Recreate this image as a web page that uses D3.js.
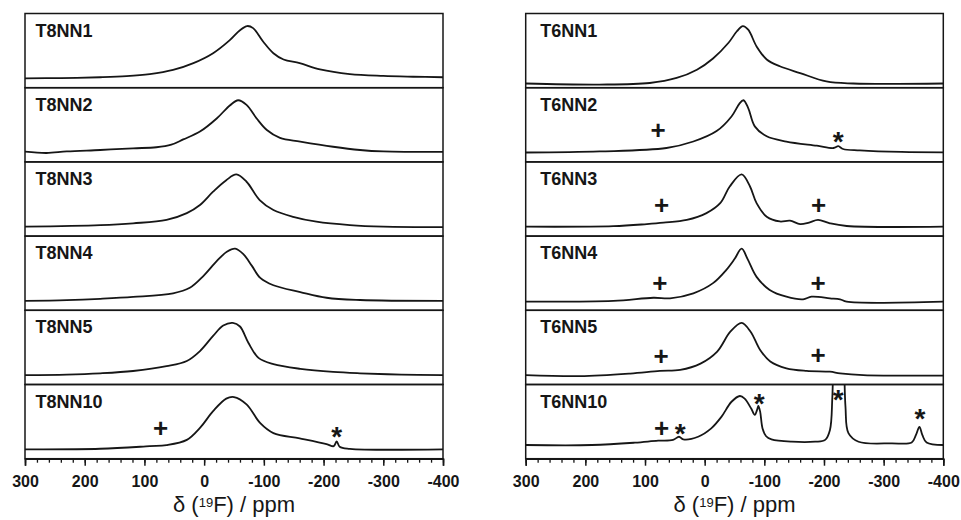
<!DOCTYPE html>
<html>
<head>
<meta charset="utf-8">
<script src="https://cdn.jsdelivr.net/npm/d3@7"></script>
<style>
  body { margin: 0; background: #fff; }
  svg { display: block; }
</style>
</head>
<body>
<svg id="chart" width="961" height="520"></svg>
<script>
// Chemical shift axis (ppm), drawn high to low
const ppmTicks = [300, 200, 100, 0, -100, -200, -300, -400];

// Sample names, top to bottom, for each column of stacked spectra
const leftSamples = ["T8NN1", "T8NN2", "T8NN3", "T8NN4", "T8NN5", "T8NN10"];
const rightSamples = ["T6NN1", "T6NN2", "T6NN3", "T6NN4", "T6NN5", "T6NN10"];

// 19F spectra: [shift in ppm, relative intensity (main peak = 1)]
const T8NN1 = [[300,0],[240,0.005],[174,0.02],[130,0.04],[91,0.08],[52,0.16],[18,0.29],[-15,0.48],[-43,0.73],[-60,0.92],[-72,1.0],[-82,0.96],[-99,0.70],[-116,0.48],[-133,0.36],[-160,0.29],[-194,0.17],[-244,0.08],[-300,0.045],[-350,0.03],[-400,0.02]];
const T8NN2 = [[300,0.015],[264,-0.01],[230,0.02],[174,0.048],[119,0.08],[80,0.10],[55,0.15],[35,0.25],[7,0.40],[-21,0.65],[-43,0.90],[-57,1.0],[-71,0.91],[-88,0.65],[-105,0.43],[-127,0.28],[-161,0.21],[-216,0.11],[-261,0.048],[-300,0.02],[-400,0.01]];
const T8NN3 = [[300,0],[174,0.03],[119,0.065],[63,0.13],[29,0.26],[7,0.415],[-15,0.67],[-37,0.89],[-54,1.0],[-71,0.86],[-93,0.51],[-116,0.32],[-149,0.19],[-188,0.096],[-244,0.03],[-300,0],[-400,-0.01]];
const T8NN4 = [[300,0],[230,0.015],[174,0.04],[119,0.075],[52,0.145],[24,0.25],[1,0.48],[-21,0.76],[-38,0.94],[-52,1.0],[-66,0.89],[-80,0.67],[-94,0.44],[-116,0.30],[-161,0.17],[-205,0.06],[-261,0.017],[-400,0]];
const T8NN5 = [[300,0],[230,0.01],[174,0.034],[119,0.078],[63,0.17],[29,0.27],[7,0.46],[-15,0.75],[-32,0.95],[-48,1.0],[-60,0.93],[-74,0.62],[-91,0.33],[-116,0.21],[-161,0.12],[-216,0.06],[-261,0.034],[-330,0.01],[-400,0]];
const T8NN10 = [[300,0],[174,0.01],[91,0.06],[63,0.08],[29,0.18],[7,0.41],[-15,0.73],[-37,0.97],[-50,1.0],[-71,0.86],[-94,0.50],[-116,0.31],[-160,0.21],[-205,0.10],[-217,0.06],[-222,0.15],[-227,0.05],[-244,0.01],[-400,0]];

const T6NN1 = [[300,-0.1],[176,-0.12],[92,-0.09],[47,0.006],[13,0.165],[-14,0.38],[-40,0.68],[-54,0.90],[-64,1.0],[-73,0.93],[-87,0.61],[-104,0.36],[-126,0.23],[-160,0.10],[-204,-0.06],[-249,-0.10],[-400,-0.1]];
const T6NN2 = [[300,0],[176,0.02],[64,0.086],[19,0.21],[-20,0.41],[-45,0.69],[-58,0.93],[-65,1.0],[-73,0.85],[-84,0.50],[-104,0.31],[-137,0.21],[-188,0.13],[-216,0.086],[-224,0.12],[-232,0.067],[-260,0.04],[-330,0.01],[-400,0.003]];
const T6NN3 = [[300,0],[153,0.01],[97,0.05],[69,0.077],[30,0.13],[-3,0.26],[-26,0.45],[-42,0.77],[-62,1.0],[-76,0.77],[-87,0.45],[-104,0.19],[-126,0.10],[-143,0.115],[-160,0.05],[-175,0.08],[-190,0.13],[-210,0.064],[-238,0.013],[-400,0]];
const T6NN4 = [[300,-0.015],[153,0],[86,0.06],[58,0.05],[19,0.145],[-14,0.34],[-36,0.59],[-50,0.80],[-62,1.0],[-72,0.80],[-87,0.46],[-109,0.21],[-137,0.08],[-165,0.03],[-179,0.08],[-210,0.05],[-227,0.03],[-238,-0.015],[-400,-0.015]];
const T6NN5 = [[300,0],[209,-0.02],[125,0.03],[75,0.08],[41,0.10],[7,0.22],[-21,0.45],[-43,0.83],[-62,1.0],[-77,0.83],[-93,0.48],[-110,0.26],[-137,0.13],[-171,0.08],[-210,0.065],[-227,0.034],[-266,0],[-400,-0.01]];
const T6NN10 = [[300,0.082],[189,0.082],[117,0.127],[78,0.165],[53,0.18],[43,0.24],[36,0.19],[11,0.24],[-11,0.40],[-28,0.62],[-45,0.91],[-59,1.02],[-67,0.97],[-78,0.78],[-84,0.66],[-88,0.76],[-90,0.83],[-93,0.72],[-97,0.40],[-103,0.25],[-112,0.19],[-146,0.145],[-185,0.145],[-202,0.18],[-210,0.37],[-214,1.0],[-217,2.2],[-224,3.0],[-232,2.2],[-236,0.82],[-241,0.31],[-258,0.145],[-314,0.115],[-347,0.13],[-354,0.27],[-360,0.43],[-365,0.27],[-372,0.13],[-400,0.082]];

// Annotation symbols: [sample, symbol, shift (ppm), height of symbol centre]
const markers = [
  ["T8NN10", "+", 73, 0.40], ["T8NN10", "*", -222, 0.37],
  ["T6NN2", "+", 78, 0.43], ["T6NN2", "*", -224, 0.335],
  ["T6NN3", "+", 72, 0.415], ["T6NN3", "+", -191, 0.415],
  ["T6NN4", "+", 75, 0.35], ["T6NN4", "+", -190, 0.35],
  ["T6NN5", "+", 73, 0.365], ["T6NN5", "+", -190, 0.385],
  ["T6NN10", "+", 72, 0.40], ["T6NN10", "*", 41, 0.43], ["T6NN10", "*", -91.5, 1.0],
  ["T6NN10", "*", -224, 1.08], ["T6NN10", "*", -361, 0.72]
];

const spectra = { T8NN1, T8NN2, T8NN3, T8NN4, T8NN5, T8NN10, T6NN1, T6NN2, T6NN3, T6NN4, T6NN5, T6NN10 };

// Layout
const FONT = "'Liberation Sans', Arial, Helvetica, sans-serif";
const INK = "#161616";
const columns = [
  { samples: leftSamples, range: [25, 443], labelDx: 10.5 },
  { samples: rightSamples, range: [525.7, 943.3], labelDx: 14.5 }
];
const top0 = 13.5, panelH = 74.2;

const svg = d3.select("#chart");
const defs = svg.append("defs");
const y = d3.scaleLinear().domain([-0.18, 1.24]).range([panelH, 0]);

columns.forEach((col, c) => {
  const x = d3.scaleLinear().domain([ppmTicks[0], ppmTicks[ppmTicks.length - 1]]).range(col.range);
  const line = d3.line().x(d => x(d[0])).y(d => y(d[1])).curve(d3.curveCatmullRom.alpha(0.5));
  const colG = svg.append("g");

  col.samples.forEach((name, i) => {
    const p = colG.append("g").attr("transform", `translate(0,${top0 + i * panelH})`);
    const clipId = `clip-${c}-${i}`;
    defs.append("clipPath").attr("id", clipId)
      .append("rect")
      .attr("x", col.range[0]).attr("y", 0)
      .attr("width", col.range[1] - col.range[0]).attr("height", panelH);

    p.append("path")
      .datum(spectra[name])
      .attr("clip-path", `url(#${clipId})`)
      .attr("fill", "none")
      .attr("stroke", INK)
      .attr("stroke-width", 1.8)
      .attr("stroke-linejoin", "round")
      .attr("d", line);

    // sample label
    p.append("text")
      .attr("x", col.range[0] + col.labelDx)
      .attr("y", 23.2)
      .attr("font-family", FONT)
      .attr("font-weight", "bold")
      .attr("font-size", 18)
      .attr("fill", INK)
      .text(name);

    // + and * annotations
    markers.filter(m => m[0] === name).forEach(m => {
      const isPlus = m[1] === "+";
      const fs = isPlus ? 26 : 28;
      const shift = isPlus ? 0.35 * fs : 0.58 * fs;
      p.append("text")
        .attr("x", x(m[2]))
        .attr("y", y(m[3]) + shift)
        .attr("text-anchor", "middle")
        .attr("font-family", FONT)
        .attr("font-weight", "bold")
        .attr("font-size", fs)
        .attr("fill", INK)
        .text(m[1]);
    });

    // panel frame
    p.append("rect")
      .attr("x", col.range[0]).attr("y", 0)
      .attr("width", col.range[1] - col.range[0]).attr("height", panelH)
      .attr("fill", "none")
      .attr("stroke", INK)
      .attr("stroke-width", 1.5);
  });

  // shift axis under the bottom panel
  const axisY = top0 + col.samples.length * panelH;
  colG.append("g")
    .attr("transform", `translate(0,${axisY})`)
    .call(d3.axisBottom(x).tickValues(x.ticks(35)).tickSize(4).tickFormat(""))
    .call(g => g.select(".domain").remove())
    .call(g => g.selectAll(".tick line").attr("stroke", INK).attr("stroke-width", 1.3));

  colG.append("g")
    .attr("transform", `translate(0,${axisY})`)
    .call(d3.axisBottom(x).tickValues(ppmTicks).tickSize(7).tickPadding(9.5).tickFormat(d => String(d)))
    .call(g => g.select(".domain").attr("stroke", INK).attr("stroke-width", 1.5))
    .call(g => g.selectAll(".tick line").attr("stroke", INK).attr("stroke-width", 1.5))
    .call(g => g.selectAll(".tick text")
      .attr("font-family", FONT)
      .attr("font-weight", "bold")
      .attr("font-size", 16)
      .attr("fill", INK));

  // axis title
  const title = colG.append("text")
    .attr("x", (col.range[0] + col.range[1]) / 2)
    .attr("y", 512)
    .attr("text-anchor", "middle")
    .attr("font-family", FONT)
    .attr("font-size", 22)
    .attr("fill", INK);
  title.append("tspan").text("δ (");
  title.append("tspan").attr("font-size", 13).attr("dy", -5.5).text("19");
  title.append("tspan").attr("dy", 5.5).text("F) / ppm");
});
</script>
</body>
</html>
